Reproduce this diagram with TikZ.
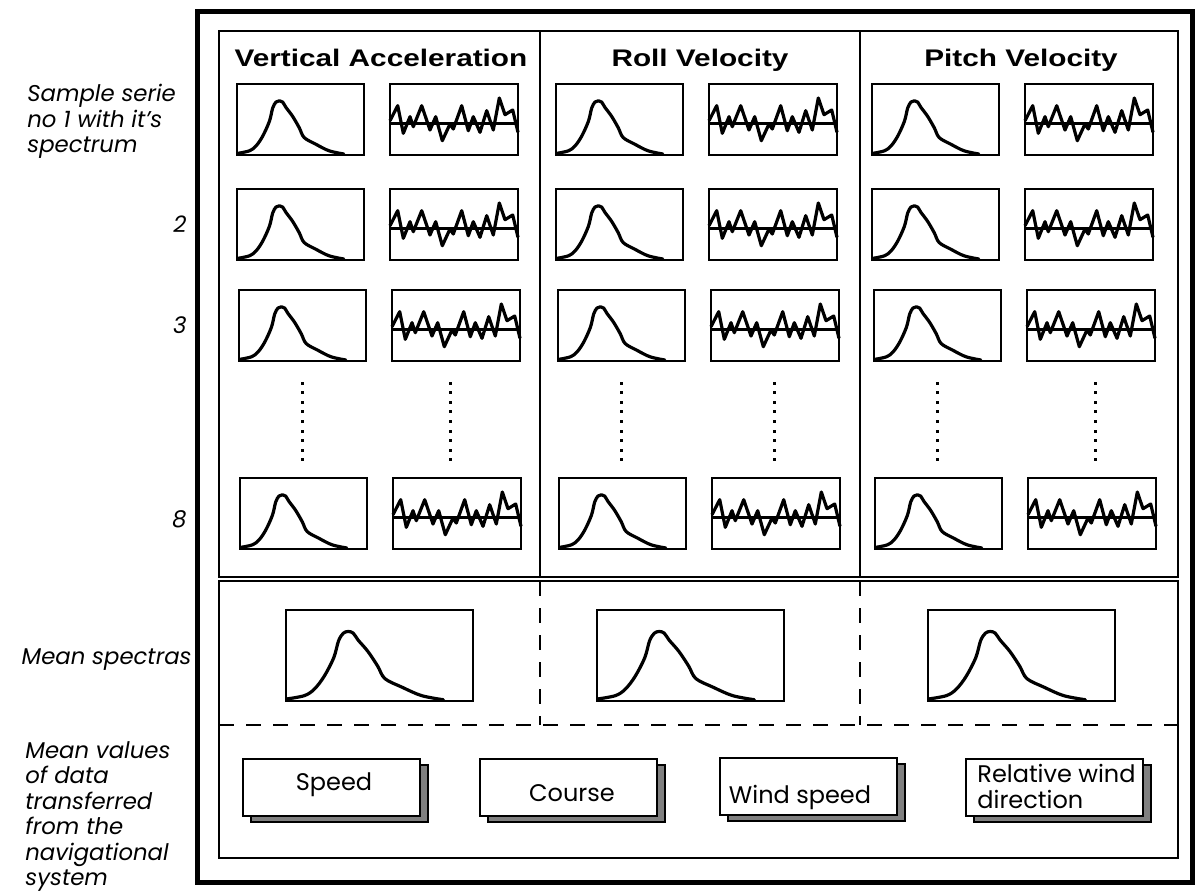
\documentclass[tikz,border=0pt]{standalone}
\usepackage{fontspec}
\setmainfont{Poppins}
\newfontfamily\headfont[FakeStretch=1.24]{Liberation Sans}
\definecolor{shadowgray}{RGB}{128,128,128}
\tikzset{
  outerframe/.style={line width=2.5pt},
  panel/.style={line width=1.1pt},
  plotframe/.style={line width=1.35pt},
  plotcurve/.style={line width=1.6pt, line join=round, line cap=round},
  sep/.style={line width=0.8pt, dash pattern=on 7.5pt off 6pt},
  navbox/.style={line width=1.1pt, fill=white},
  shadowbox/.style={line width=1.1pt, fill=shadowgray},
  head/.style={font=\headfont\bfseries\fontsize{12pt}{14pt}\selectfont, inner sep=0pt},
  sidelabel/.style={font=\fontsize{11.4pt}{12.75pt}\selectfont\itshape, inner sep=0pt, align=left},
  navtext/.style={font=\fontsize{12pt}{13pt}\selectfont, inner sep=0pt, align=left},
}
% spectrum drawn in a box of given top-left corner, width and height
\newcommand\specplot[4]{%
  \draw[plotframe] (#1,#2) rectangle ++(#3,#4);
  \begin{scope}[shift={(#1,#2+#4)}, xscale=#3/128, yscale=-#4/72]
    \draw[plotcurve] plot[smooth, tension=0.55] coordinates {
      (1,1.7) (12.7,4.3) (19.3,9.3) (26,19.3) (32.7,34.3) (36,47.7)
      (39.3,53.7) (42.7,55) (46,53.7) (49.3,48.3) (56,39.3) (62.7,27.7)
      (67.7,17.7) (79.3,11) (92.7,4.3) (107.7,1)};
  \end{scope}}
% time series with its zero line
\newcommand\seriesplot[2]{%
  \draw[plotframe] (#1,#2) rectangle ++(128,71);
  \begin{scope}[shift={(#1,#2+71)}, yscale=-1]
    \draw[plotframe] (0,31.7) -- (128,31.7);
    \draw[plotcurve, line cap=butt] (0,34.3) -- (7.7,49.3) -- (13.3,21.7) -- (20,38.3)
      -- (23.3,28.3) -- (31.7,49.3) -- (40,25) -- (45.7,38.3) -- (52.3,14.3)
      -- (60,31) -- (63.3,26) -- (71.7,49.3) -- (78.3,24.3) -- (83.3,38.3)
      -- (90,22.7) -- (96.7,44.3) -- (103.3,25) -- (109.3,57) -- (115,40.3)
      -- (122.7,45) -- (128,22.7);
  \end{scope}}
\begin{document}
\begin{tikzpicture}[x=0.5pt, y=-0.5pt]
  \useasboundingbox (0,0) rectangle (1199,893);

  % frames
  \draw[outerframe] (197,12) rectangle (1192,882);
  \draw[panel] (219,31) rectangle (1178,577);
  \draw[panel] (540,31) -- (540,577);
  \draw[panel] (860,31) -- (860,577);
  \draw[panel] (219,581) rectangle (1178,858);
  \draw[sep] (219,725) -- (1178,725);
  \draw[sep] (540,581) -- (540,725);
  \draw[sep] (860,581) -- (860,725);

  % column headings
  \node[head, anchor=base] (hva) at (381,67) {Vertical Acceleration};
  \node[head, anchor=base] (hrv) at (700,67) {Roll Velocity};
  \node[head, anchor=base] (hpv) at (1021,67) {Pitch Velocity};

  % sample series: spectrum and time series per row
  \foreach \dx in {0,319,635} {
    \foreach \ry/\ox in {84/0, 189/0, 290/2, 478/3} {
      \specplot{237+\dx+\ox}{\ry}{127}{71}
      \seriesplot{390+\dx+\ox}{\ry}
    }
    \foreach \k in {0,...,8} {
      \fill (302+\dx-1.5,383+\k*9.6-1.5) rectangle ++(3,3);
      \fill (450+\dx+\dx/60-1.5,383+\k*9.6-1.5) rectangle ++(3,3);
    }
  }

  % mean spectra
  \specplot{286}{610}{187}{91}
  \specplot{597}{610}{187}{91}
  \specplot{928}{610}{187}{91}

  % navigational data boxes
  \foreach \bx/\by in {243/759, 480/759, 720/758, 966/759} {
    \draw[shadowbox] (\bx+8,\by+6) rectangle ++(177,57);
    \draw[navbox] (\bx,\by) rectangle ++(177,57);
  }
  \node[navtext, anchor=base] (speed) at (334,790) {Speed};
  \node[navtext, anchor=base] (course) at (572,801) {Course};
  \node[navtext, anchor=base] (wind) at (800,803) {Wind speed};
  \node[navtext, anchor=base west] (relwind) at (977,782) {Relative wind};
  \node[navtext, anchor=base west] (reldir) at (977,808) {direction};

  % row labels on the left
  \node[sidelabel, anchor=north west] (sample) at (27,84) {Sample serie\\no 1 with it's\\spectrum};
  \node[sidelabel, anchor=base east] (n2) at (187,233) {2};
  \node[sidelabel, anchor=base east] (n3) at (187,334) {3};
  \node[sidelabel, anchor=base east] (n8) at (187,527) {8};
  \node[sidelabel, anchor=base east] (meansp) at (192,664) {Mean spectras};
  \node[sidelabel, anchor=north west] (meanval) at (25,741) {Mean values\\of data\\transferred\\from the\\navigational\\system};
\end{tikzpicture}
\end{document}
